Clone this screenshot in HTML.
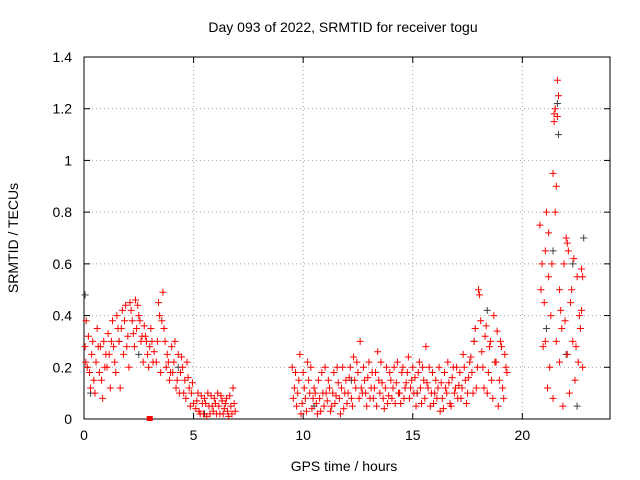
<!DOCTYPE html>
<html><head><meta charset="utf-8"><style>
body{margin:0;background:#fff}
svg{display:block;font-family:"Liberation Sans",sans-serif}
</style></head><body>
<svg id="chart" width="640" height="480">
<text x="343" y="32" text-anchor="middle" font-size="14">Day 093 of 2022, SRMTID for receiver togu</text>
<text x="344" y="471" text-anchor="middle" font-size="14">GPS time / hours</text>
<text x="18" y="238" text-anchor="middle" font-size="14" transform="rotate(-90 18 238)">SRMTID / TECUs</text>
<g id="grid"></g><g id="axes"></g><g id="marks"></g>
</svg>
<script>
const xTicks=[0,5,10,15,20];
const yTicks=[0,0.2,0.4,0.6,0.8,1,1.2,1.4];
const yTickLabels=["0","0.2","0.4","0.6","0.8","1","1.2","1.4"];
const redTimes=[0.05,0.1,0.15,0.2,0.3,0.35,0.4,0.5,0.55,0.6,0.7,0.75,0.8,0.9,1.0,1.05,1.1,1.2,1.3,1.35,1.4,1.5,1.6,1.7,1.75,1.8,1.9,2.0,2.05,2.1,2.2,2.3,2.35,2.4,2.5,2.6,2.7,2.75,2.8,2.9,3.0,3.1,3.2,
3.3,3.4,3.5,3.55,3.6,3.7,3.75,3.8,3.9,4.0,4.05,4.1,4.2,4.3,4.35,4.4,4.5,4.6,4.65,4.7,4.8,4.9,5.0,
5.1,5.2,5.3,5.4,5.5,5.6,5.7,5.8,5.9,6.0,6.1,6.2,6.3,6.4,6.5,6.6,6.7,6.8,6.9,
9.5,9.6,9.7,9.8,9.9,10.0,10.1,10.2,10.3,10.4,10.5,10.6,10.7,10.8,10.9,11.0,11.1,11.2,11.3,11.4,11.5,11.6,11.7,11.8,11.9,12.0,12.1,12.2,12.3,12.4,12.5,12.6,12.7,12.8,12.9,13.0,13.1,13.2,13.3,13.4,13.5,13.6,13.7,13.8,13.9,14.0,14.1,14.2,14.3,14.4,14.5,14.6,14.7,14.8,14.9,15.0,15.1,15.2,15.3,15.4,15.5,15.6,15.7,15.8,15.9,16.0,16.1,16.2,16.3,16.4,16.5,16.6,16.7,16.8,16.9,17.0,17.1,17.2,17.3,17.4,17.5,17.6,17.7,17.8,17.9,18.0,18.1,18.2,18.3,18.4,18.5,18.6,18.7,18.8,18.9,19.0,19.1,19.2,19.3,
20.8,20.9,21.0,21.05,21.1,21.2,21.25,21.3,21.4,21.45,21.5,21.55,21.6,21.65,21.7,21.8,21.9,22.0,22.05,22.1,22.2,22.3,22.4,22.5,22.6,22.7,22.75];
const redValues=[0.28,0.38,0.2,0.32,0.12,0.25,0.3,0.1,0.22,0.35,0.18,0.28,0.15,0.3,0.25,0.2,0.33,0.12,0.38,0.28,0.22,0.4,0.3,0.35,0.42,0.25,0.44,0.32,0.2,0.45,0.38,0.28,0.46,0.35,0.4,0.3,0.22,0.36,0.32,0.25,0.28,0.3,0.26,
0.22,0.45,0.18,0.38,0.49,0.3,0.2,0.25,0.15,0.28,0.18,0.22,0.12,0.25,0.1,0.18,0.2,0.15,0.08,0.22,0.12,0.1,0.06,
0.04,0.1,0.02,0.06,0.08,0.01,0.05,0.09,0.03,0.06,0.1,0.02,0.07,0.04,0.08,0.01,0.05,0.12,0.03,
0.2,0.12,0.05,0.15,0.02,0.18,0.08,0.22,0.1,0.04,0.12,0.06,0.15,0.03,0.1,0.2,0.07,0.12,0.05,0.18,0.09,0.14,0.02,0.2,0.1,0.06,0.16,0.08,0.24,0.12,0.18,0.3,0.1,0.15,0.05,0.22,0.12,0.08,0.18,0.26,0.1,0.14,0.04,0.2,0.09,0.15,0.12,0.06,0.22,0.1,0.18,0.08,0.14,0.24,0.12,0.2,0.16,0.1,0.22,0.06,0.15,0.28,0.12,0.05,0.18,0.1,0.08,0.2,0.14,0.04,0.12,0.22,0.06,0.16,0.1,0.2,0.13,0.08,0.25,0.15,0.1,0.22,0.18,0.3,0.12,0.5,0.38,0.2,0.32,0.1,0.28,0.15,0.4,0.22,0.05,0.3,0.12,0.25,0.18,
0.75,0.6,0.45,0.3,0.8,0.55,0.2,0.4,0.95,1.15,1.2,0.9,1.31,1.25,0.5,0.35,0.6,0.7,0.25,0.65,0.45,0.3,0.15,0.55,0.4,0.58,0.2];
const redTimesB=[0.08,0.25,0.45,0.65,0.85,0.95,1.15,1.25,1.45,1.55,1.65,1.85,1.95,2.15,2.25,2.45,2.55,2.65,2.85,2.95,3.05,3.15,
3.35,3.45,3.65,3.85,3.95,4.15,4.25,4.45,4.55,4.75,4.85,4.95,
5.15,5.25,5.35,5.45,5.55,5.65,5.75,5.85,5.95,6.05,6.15,6.25,6.35,6.45,6.55,6.65,6.75,6.85,
9.55,9.65,9.75,9.85,9.95,10.05,10.15,10.25,10.35,10.45,10.55,10.65,10.75,10.85,10.95,11.05,11.15,11.25,11.35,11.45,11.55,11.65,11.75,11.85,11.95,12.05,12.15,12.25,12.35,12.45,12.55,12.65,12.75,12.85,12.95,13.05,13.15,13.25,13.35,13.45,13.55,13.65,13.75,13.85,13.95,14.05,14.15,14.25,14.35,14.45,14.55,14.65,14.75,14.85,14.95,15.05,15.15,15.25,15.35,15.45,15.55,15.65,15.75,15.85,15.95,16.05,16.15,16.25,16.35,16.45,16.55,16.65,16.75,16.85,16.95,17.05,17.15,17.25,17.35,17.45,17.55,17.65,17.75,17.85,17.95,18.05,18.15,18.25,18.35,18.45,18.55,18.65,18.75,18.85,18.95,19.05,19.15,19.25,
20.85,20.95,21.05,21.15,21.2,21.35,21.4,21.45,21.5,21.55,21.6,21.7,21.75,21.85,21.95,22.05,22.15,22.25,22.35,22.45,22.55,22.65,22.7,22.75];
const redValuesB=[0.22,0.18,0.15,0.28,0.08,0.2,0.25,0.3,0.18,0.35,0.12,0.38,0.28,0.42,0.33,0.44,0.38,0.32,0.3,0.2,0.35,0.22,
0.3,0.4,0.35,0.22,0.18,0.3,0.15,0.24,0.1,0.16,0.05,0.14,
0.07,0.03,0.09,0.02,0.06,0.1,0.02,0.05,0.08,0.02,0.05,0.09,0.02,0.06,0.03,0.09,0.02,0.06,
0.08,0.18,0.1,0.25,0.06,0.12,0.03,0.15,0.2,0.08,0.1,0.02,0.08,0.18,0.05,0.1,0.15,0.03,0.1,0.06,0.2,0.08,0.12,0.04,0.15,0.1,0.2,0.05,0.15,0.22,0.08,0.12,0.2,0.1,0.16,0.08,0.18,0.12,0.05,0.15,0.22,0.08,0.12,0.06,0.18,0.08,0.2,0.14,0.1,0.06,0.2,0.12,0.18,0.08,0.15,0.1,0.05,0.18,0.12,0.2,0.08,0.14,0.2,0.1,0.06,0.15,0.12,0.03,0.08,0.18,0.1,0.14,0.05,0.2,0.12,0.08,0.18,0.12,0.2,0.06,0.16,0.24,0.1,0.35,0.2,0.48,0.26,0.12,0.36,0.18,0.3,0.08,0.22,0.34,0.15,0.28,0.08,0.2,
0.5,0.28,0.65,0.12,0.72,0.6,0.08,1.18,0.8,0.3,1.17,0.22,0.42,0.05,0.38,0.68,0.1,0.5,0.62,0.28,0.22,0.35,0.42,0.55];
const grayTimes=[0.05,0.3,1.6,2.5,4.3,5.5,10.5,12.2,15.2,17.8,18.4,21.1,21.4,21.6,21.65,22.0,22.3,22.5,22.8];
const grayValues=[0.48,0.1,0.3,0.25,0.2,0.02,0.05,0.15,0.1,0.3,0.42,0.35,0.65,1.22,1.1,0.25,0.6,0.05,0.7];
const NS="http://www.w3.org/2000/svg";
const X0=84,X1=610,Y0=419,Y1=57;
const xs=t=>X0+t/24*(X1-X0);
const ys=v=>Y0-v/1.4*(Y0-Y1);
function mk(tag,attrs,parent){const e=document.createElementNS(NS,tag);for(const k in attrs)e.setAttribute(k,attrs[k]);parent.appendChild(e);return e;}
const grid=document.getElementById('grid'),axes=document.getElementById('axes'),marks=document.getElementById('marks');
xTicks.forEach(t=>{
  if(t>0){const g=mk('line',{x1:xs(t),x2:xs(t),y1:Y0,y2:Y1,stroke:'#a0a0a0','stroke-dasharray':'1,3'},grid);
  
  }
  const l=mk('text',{x:xs(t),y:Y0+21,'text-anchor':'middle','font-size':14},axes);l.textContent=t;
  
  
  mk('line',{x1:xs(t),x2:xs(t),y1:Y0,y2:Y0-6,stroke:'#000'},axes);
  mk('line',{x1:xs(t),x2:xs(t),y1:Y1,y2:Y1+6,stroke:'#000'},axes);
});
yTicks.forEach((v,i)=>{
  if(v>0&&v<1.4){const g=mk('line',{x1:X0,x2:X1,y1:ys(v),y2:ys(v),stroke:'#a0a0a0','stroke-dasharray':'1,3'},grid);
  
  }
  const l=mk('text',{x:X0-12,y:ys(v)+5,'text-anchor':'end','font-size':14},axes);l.textContent=yTickLabels[i];
  
  
  mk('line',{x1:X0,x2:X0+6,y1:ys(v),y2:ys(v),stroke:'#000'},axes);
  mk('line',{x1:X1,x2:X1-6,y1:ys(v),y2:ys(v),stroke:'#000'},axes);
});
const fr=mk('rect',{x:X0,y:Y1,width:X1-X0,height:Y0-Y1,fill:'none',stroke:'#000'},axes);


function plus(t,v,color,name){
  const x=xs(t),y=ys(v);
  const p=mk('path',{d:`M${x-3.5},${y}H${x+3.5}M${x},${y-3.5}V${y+3.5}`,stroke:color,'stroke-width':1},marks);
  
  
}
const n1=Math.min(grayTimes.length,grayValues.length);
for(let i=0;i<n1;i++)plus(grayTimes[i],grayValues[i],'#404040','gray-point');
const n2=Math.min(redTimes.length,redValues.length);
for(let i=0;i<n2;i++)plus(redTimes[i],redValues[i],'#ff0000','red-point');
const n3=Math.min(redTimesB.length,redValuesB.length);
for(let i=0;i<n3;i++)plus(redTimesB[i],redValuesB[i],'#ff0000','red-point');
const sq=mk('rect',{x:xs(3)-3,y:ys(0)-3,width:6,height:5,fill:'#ff0000'},marks);


</script>
</body></html>
